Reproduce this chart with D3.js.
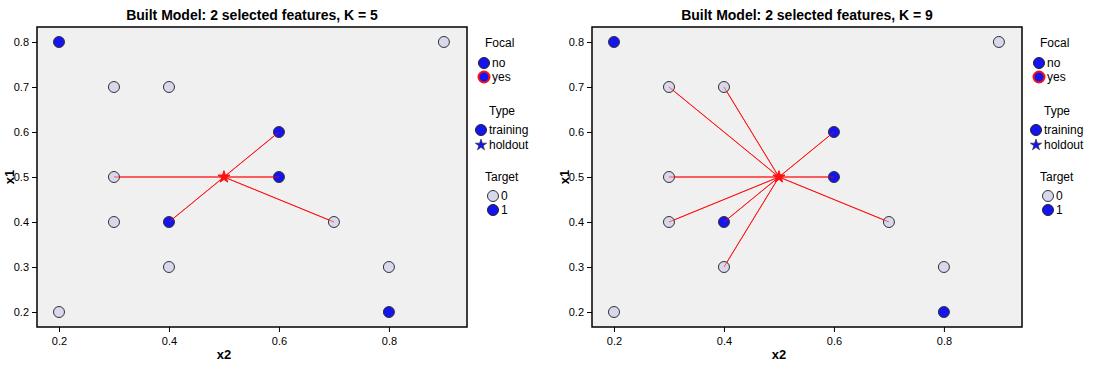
<!DOCTYPE html>
<html>
<head>
<meta charset="utf-8">
<script src="https://cdn.jsdelivr.net/npm/d3@7"></script>
<style>
  body { margin: 0; background: #fff; }
  svg text { font-family: "Liberation Sans", Arial, sans-serif; }
</style>
</head>
<body>
<svg id="graf" width="1094" height="370"></svg>
<script>
// Datos de los puntos (x2, x1, target)
var ptsX2 = [0.2, 0.9, 0.3, 0.4, 0.6, 0.3, 0.6, 0.4, 0.3, 0.7, 0.4, 0.8, 0.2, 0.8]
var ptsX1 = [0.8, 0.8, 0.7, 0.7, 0.6, 0.5, 0.5, 0.4, 0.4, 0.4, 0.3, 0.3, 0.2, 0.2]
var ptsTarget = [1, 0, 0, 0, 1, 0, 1, 1, 0, 0, 0, 0, 0, 1]
// Punto focal (holdout)
var focalX2 = 0.5
var focalX1 = 0.5
// Vecinos (indices en los arrays)
var vecinosK5 = [5, 6, 4, 7, 9]
var vecinosK9 = [2, 3, 4, 5, 6, 8, 7, 9, 10]
var titulos = ['Built Model: 2 selected features, K = 5', 'Built Model: 2 selected features, K = 9']
var ticksX = [0.2, 0.4, 0.6, 0.8]
var ticksY = [0.2, 0.3, 0.4, 0.5, 0.6, 0.7, 0.8]

var svg = d3.select('#graf')
var azul = '#1414f0'
var claro = '#d8d8ec'

var star = d3.symbol().type(d3.symbolStar)

function panel(offX, titulo, vecinos) {
  var margen = { izq: 37 + offX, sup: 27 }
  var ancho = 430, alto = 300
  var x = d3.scaleLinear().domain([0.16, 0.942]).range([0, ancho])
  var y = d3.scaleLinear().domain([0.1667, 0.8333]).range([alto, 0])

  var g = svg.append('g').attr('transform', `translate(${margen.izq}, ${margen.sup})`)
  g.append('rect').attr('width', ancho).attr('height', alto)
   .attr('fill', '#f0f0f0')

  // ejes
  var ejeX = g.append('g').attr('transform', `translate(0, ${alto})`)
    .call(d3.axisBottom(x).tickValues(ticksX).tickSize(5).tickSizeOuter(0).tickFormat(d3.format('.1f')))
  var ejeY = g.append('g')
    .call(d3.axisLeft(y).tickValues(ticksY).tickSize(5).tickSizeOuter(0).tickFormat(d3.format('.1f')))
  ;[ejeX, ejeY].forEach(function(e) {
    e.select('.domain').remove()
    e.selectAll('line').attr('stroke', '#000')
    e.selectAll('text').attr('fill', '#000').style('font-size', '11px')
  })
  ejeX.selectAll('text').attr('dy', '0.9em')

  g.append('rect').attr('width', ancho).attr('height', alto)
   .attr('fill', 'none').attr('stroke', '#000').attr('stroke-width', 1.5)

  // lineas a los vecinos
  g.selectAll('line.vec').data(vecinos).enter().append('line')
   .attr('class', 'vec')
   .attr('x1', x(focalX2)).attr('y1', y(focalX1))
   .attr('x2', d => x(ptsX2[d])).attr('y2', d => y(ptsX1[d]))
   .attr('stroke', '#ff1010').attr('stroke-width', 1)

  // puntos
  g.selectAll('circle.pt').data(ptsX2.map((d, i) => i)).enter().append('circle')
   .attr('class', 'pt')
   .attr('cx', i => x(ptsX2[i])).attr('cy', i => y(ptsX1[i]))
   .attr('r', 5.5)
   .attr('fill', i => ptsTarget[i] ? azul : claro)
   .attr('stroke', '#333').attr('stroke-width', 1)

  // lineas encima de los puntos (se ven sobre el circulo)
  g.selectAll('line.vec2').data(vecinos).enter().append('line')
   .attr('x1', x(focalX2)).attr('y1', y(focalX1))
   .attr('x2', d => x(ptsX2[d])).attr('y2', d => y(ptsX1[d]))
   .attr('stroke', '#ff1010').attr('stroke-width', 1).attr('opacity', 0.6)

  // focal
  g.append('path').attr('d', star.size(45)())
   .attr('transform', `translate(${x(focalX2)}, ${y(focalX1)})`)
   .attr('fill', '#ff1010').attr('stroke', '#ff1010').attr('stroke-width', 1)

  // titulo
  svg.append('text').attr('x', margen.izq + ancho / 2).attr('y', 20)
     .attr('text-anchor', 'middle').style('font-size', '14px').style('font-weight', 'bold')
     .text(titulo)
  svg.append('text').attr('y', 359)
     .attr('x', margen.izq + x(0.5)).attr('text-anchor', 'middle')
     .style('font-size', '13px').style('font-weight', 'bold').text('x2')
  svg.append('text').attr('transform', `translate(${margen.izq - 23}, ${margen.sup + y(0.5)}) rotate(-90)`)
     .attr('text-anchor', 'middle')
     .style('font-size', '13px').style('font-weight', 'bold').text('x1')

  // leyenda
  var lx = margen.izq + ancho + 11
  var lg = svg.append('g').attr('transform', `translate(${lx}, 0)`)
  function titLey(t, ty, tx) {
    lg.append('text').attr('x', tx).attr('y', ty).style('font-size', '12px').text(t)
  }
  function item(t, ty, cx, tipo, color, borde, bw) {
    if (tipo === 'star') {
      lg.append('path').attr('d', star.size(40)()).attr('transform', `translate(${cx}, ${ty})`)
        .attr('fill', azul).attr('stroke', '#222').attr('stroke-width', 0.6)
    } else {
      lg.append('circle').attr('cx', cx).attr('cy', ty).attr('r', 5.5)
        .attr('fill', color).attr('stroke', borde).attr('stroke-width', bw)
    }
    lg.append('text').attr('x', cx + 8).attr('y', ty + 4).style('font-size', '12px').text(t)
  }
  titLey('Focal', 47, 7)
  item('no', 63, 6, 'c', azul, '#222', 1)
  item('yes', 77, 6, 'c', azul, '#ff1010', 2)
  titLey('Type', 115, 11)
  item('training', 130, 3, 'c', azul, '#222', 1)
  item('holdout', 145, 3, 'star')
  titLey('Target', 181, 7)
  item('0', 196, 15, 'c', claro, '#333', 1)
  item('1', 210, 15, 'c', azul, '#222', 1)
}

panel(0, titulos[0], vecinosK5)
panel(555, titulos[1], vecinosK9)
</script>
</body>
</html>
